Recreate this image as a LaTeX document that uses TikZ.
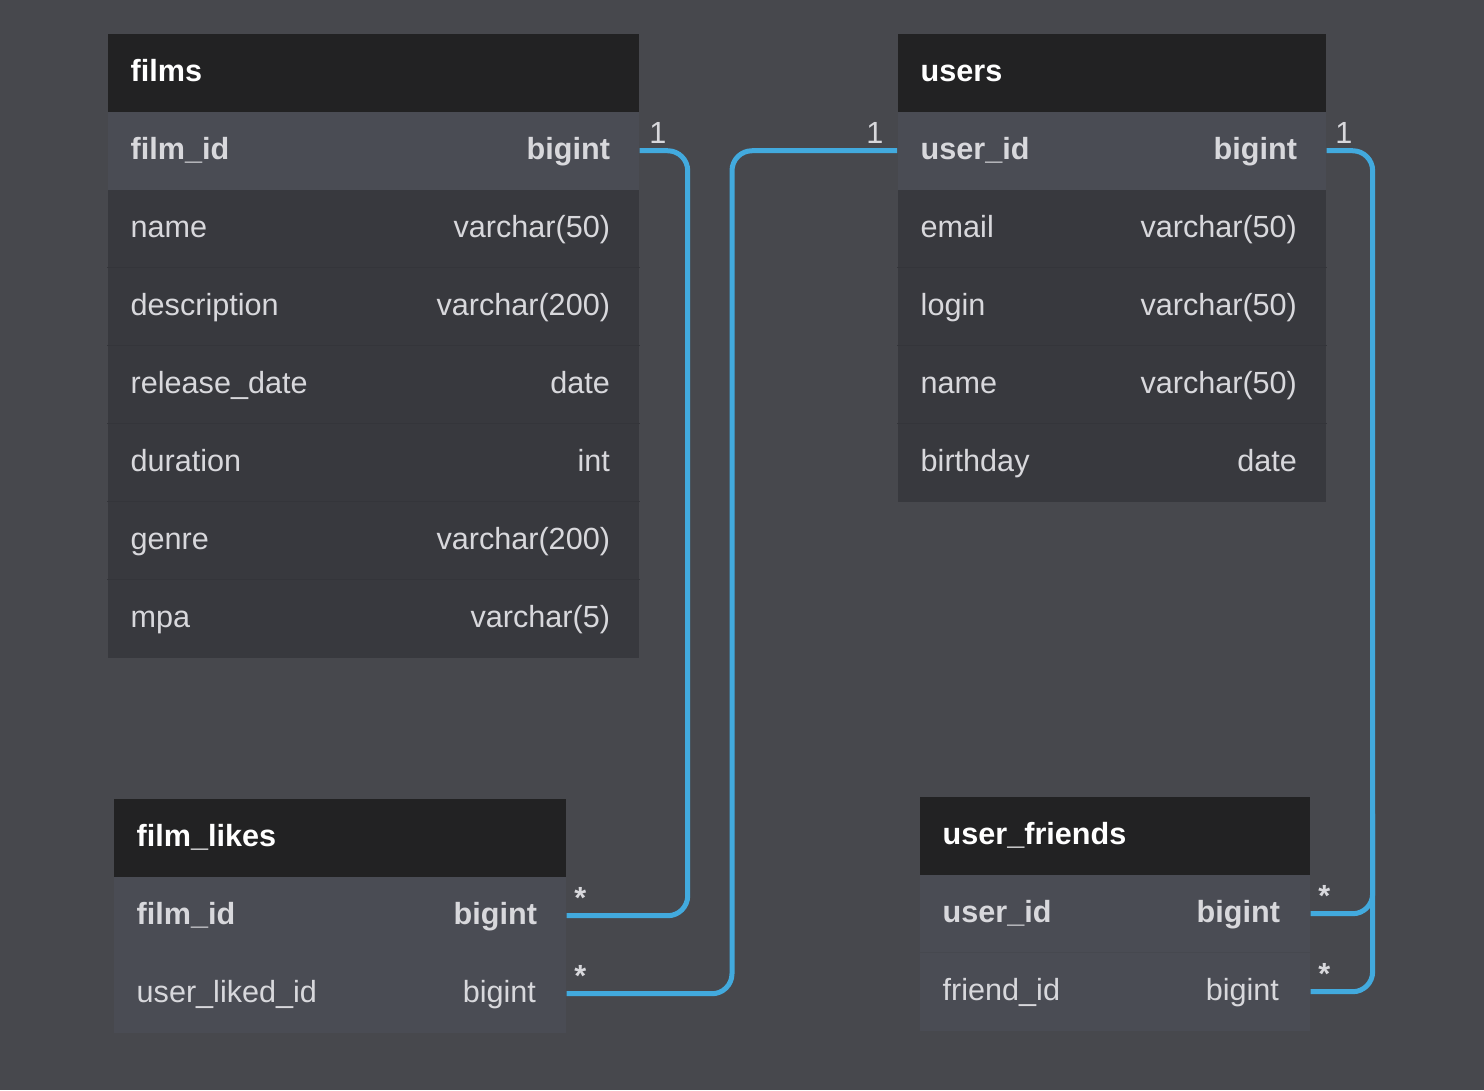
\documentclass[tikz,border=0pt]{standalone}
\usepackage{fontspec}
\setmainfont{Liberation Sans}
\usetikzlibrary{calc}

\definecolor{canvasgrey}{HTML}{47484D}
\definecolor{headblack}{HTML}{222223}
\definecolor{keygrey}{HTML}{4A4C54}
\definecolor{rowgrey}{HTML}{38393E}
\definecolor{sepgrey}{HTML}{34353A}
\definecolor{keysep}{HTML}{46484F}
\definecolor{fieldgrey}{HTML}{D8D8DC}
\definecolor{linkblue}{HTML}{42AADE}

\tikzset{
  tbl/.style={rectangle, anchor=north west, minimum height=0.78cm, inner xsep=0.23cm,
    inner ysep=0pt, text height=0.18cm, text depth=0pt, align=left,
    font=\fontsize{8.7}{10}\selectfont, text=fieldgrey},
  head/.style={tbl, fill=headblack, text=white, font=\fontsize{8.7}{10}\selectfont\bfseries},
  keyrow/.style={tbl, fill=keygrey, font=\fontsize{8.7}{10}\selectfont\bfseries},
  plainrow/.style={tbl, fill=rowgrey},
  likerow/.style={tbl, fill=keygrey},
  typ/.style={anchor=east, inner sep=0pt, text height=0.18cm, text depth=0pt,
    font=\fontsize{8.7}{10}\selectfont, text=fieldgrey},
  keytyp/.style={typ, font=\fontsize{8.7}{10}\selectfont\bfseries},
  sep/.style={draw=sepgrey, line width=0.01cm},
  link/.style={draw=linkblue, line width=0.05cm, rounded corners=0.2cm},
  mult/.style={inner sep=0pt, text depth=0pt, font=\fontsize{8.7}{10}\selectfont, text=fieldgrey},
}

\begin{document}
\begin{tikzpicture}[x=0.01cm, y=-0.01cm]
	% Fondo
	\fill[canvasgrey] (0,0) rectangle (1484,1090);

	% Tabla films
	\node[head, text width=4.85cm] (films) at (107,33) {films};
	\node[keyrow, text width=4.85cm] (films-1) at (107,111) {film\_id};
	\node[keytyp] (films-t1) at ([xshift=-0.29cm]films-1.east) {bigint};
	\foreach \f/\t [count=\i from 2] in {name/varchar(50), description/varchar(200),
	    release\_date/date, duration/int, genre/varchar(200), mpa/varchar(5)} {
		\node[plainrow, text width=4.85cm] (films-\i) at (107,{33+78*\i}) {\f};
		\node[typ] (films-t\i) at ([xshift=-0.29cm]films-\i.east) {\t};
	}
	\foreach \i in {3,...,7}
		\draw[sep] (films-\i.north west) -- (films-\i.north east);

	% Tabla users
	\node[head, text width=3.82cm] (users) at (897,33) {users};
	\node[keyrow, text width=3.82cm] (users-1) at (897,111) {user\_id};
	\node[keytyp] (users-t1) at ([xshift=-0.29cm]users-1.east) {bigint};
	\foreach \f/\t [count=\i from 2] in {email/varchar(50), login/varchar(50),
	    name/varchar(50), birthday/date} {
		\node[plainrow, text width=3.82cm] (users-\i) at (897,{33+78*\i}) {\f};
		\node[typ] (users-t\i) at ([xshift=-0.29cm]users-\i.east) {\t};
	}
	\foreach \i in {3,...,5}
		\draw[sep] (users-\i.north west) -- (users-\i.north east);

	% Tabla film_likes
	\node[head, text width=4.06cm] (likes) at (113,798) {film\_likes};
	\node[keyrow, text width=4.06cm] (likes-1) at (113,876) {film\_id};
	\node[keytyp] (likes-t1) at ([xshift=-0.29cm]likes-1.east) {bigint};
	\node[likerow, text width=4.06cm] (likes-2) at (113,954) {user\_liked\_id};
	\node[typ] (likes-t2) at ([xshift=-0.3cm]likes-2.east) {bigint};

	% Tabla user_friends
	\node[head, text width=3.44cm] (friends) at (919,796) {user\_friends};
	\node[keyrow, text width=3.44cm] (friends-1) at (919,874) {user\_id};
	\node[keytyp] (friends-t1) at ([xshift=-0.3cm]friends-1.east) {bigint};
	\node[likerow, text width=3.44cm] (friends-2) at (919,952) {friend\_id};
	\node[typ] (friends-t2) at ([xshift=-0.31cm]friends-2.east) {bigint};
	\draw[sep, keysep] (friends-2.north west) -- (friends-2.north east);

	% Relaciones
	\draw[link] (films-1.east) -- ++(48,0) |- (likes-1.east);
	\draw[link] (users-1.west) -- ++(-165,0) |- (likes-2.east);
	\draw[link] (users-1.east) -- ++(46,0) coordinate (uturn) |- (friends-2.east);
	\coordinate (join) at ($(friends-1.east -| uturn)+(0,-100)$);
	\draw[link] (friends-1.east) -| (join);

	% Cardinalidades
	\node[mult, anchor=south west] (m1) at ([xshift=0.09cm, yshift=0.07cm]films-1.east) {1};
	\node[mult, anchor=south east] (m2) at ([xshift=-0.13cm, yshift=0.07cm]users-1.west) {1};
	\node[mult, anchor=south west] (m3) at ([xshift=0.08cm, yshift=0.07cm]users-1.east) {1};
	\node[mult, anchor=south west] (s1) at ([xshift=0.07cm, yshift=0.07cm]likes-1.east) {\bfseries *};
	\node[mult, anchor=south west] (s2) at ([xshift=0.07cm, yshift=0.07cm]likes-2.east) {\bfseries *};
	\node[mult, anchor=south west] (s3) at ([xshift=0.07cm, yshift=0.07cm]friends-1.east) {\bfseries *};
	\node[mult, anchor=south west] (s4) at ([xshift=0.07cm, yshift=0.07cm]friends-2.east) {\bfseries *};
\end{tikzpicture}
\end{document}
